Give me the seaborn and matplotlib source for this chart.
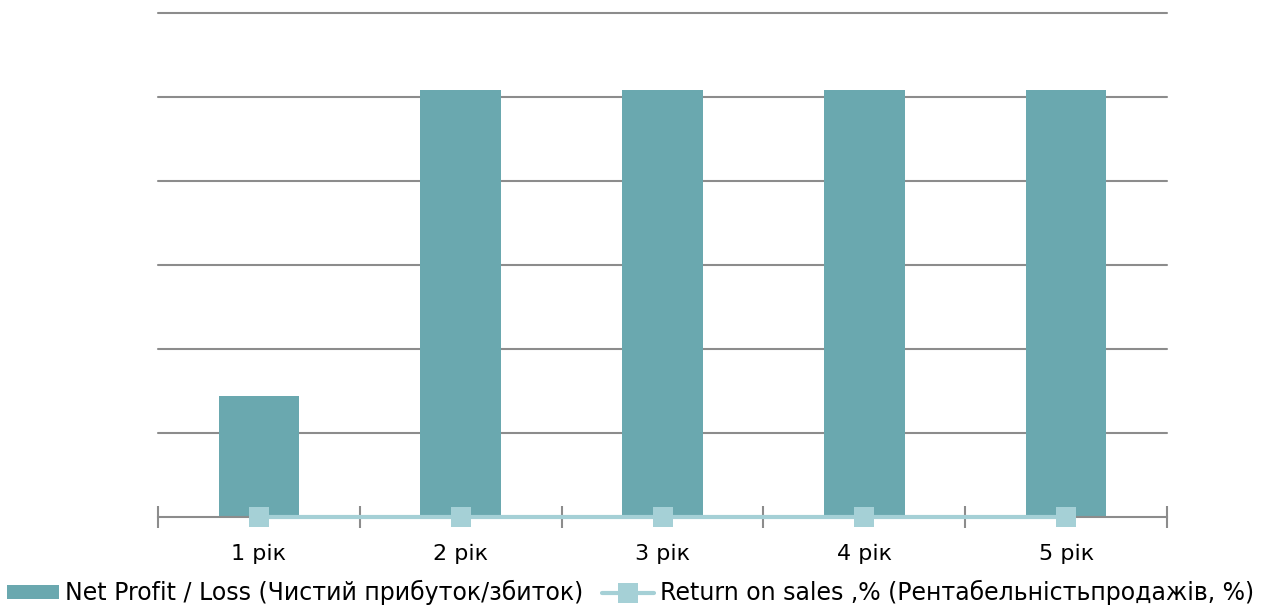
import matplotlib
matplotlib.use("Agg")
import matplotlib.pyplot as plt
from matplotlib.lines import Line2D
from matplotlib.patches import Patch
from matplotlib.ticker import FixedLocator
import seaborn as sns
import pandas as pd

years = ["1 рік", "2 рік", "3 рік", "4 рік", "5 рік"]
net_profit = [1.44, 5.08, 5.08, 5.08, 5.08]
return_on_sales = [0, 0, 0, 0, 0]

profit_label = "Net Profit / Loss (Чистий прибуток/збиток)"
ros_label = "Return on sales ,% (Рентабельністьпродажів, %)"

bar_color = "#6aa8af"
line_color = "#a5d0d6"
grid_color = "#8c8c8c"

sns.set_theme(style="white")
plt.rcParams["font.family"] = ["DejaVu Sans"]

df = pd.DataFrame({"year": years, "profit": net_profit, "ros": return_on_sales})

fig = plt.figure(figsize=(12.61, 6.10), dpi=100)
ax = fig.add_axes([158 / 1261, 1 - 517 / 610, (1167 - 158) / 1261, (517 - 13) / 610])

for y in range(1, 7):
    ax.axhline(y, color=grid_color, linewidth=1.5, zorder=0, clip_on=False)

sns.barplot(data=df, x="year", y="profit", color=bar_color, width=0.4,
            saturation=1, ax=ax, zorder=2)
for p in ax.patches:
    p.set_edgecolor("none")

ax.plot(range(len(years)), df["ros"], color=line_color, linewidth=3,
        marker="s", markersize=14, markeredgewidth=0, zorder=4, clip_on=False)

ax.set_xlim(-0.5, len(years) - 0.5)
ax.set_ylim(0, 6)
ax.set_xlabel("")
ax.set_ylabel("")
ax.set_yticks([])

for side in ("top", "right", "left"):
    ax.spines[side].set_visible(False)
ax.spines["bottom"].set_color(grid_color)
ax.spines["bottom"].set_linewidth(1.5)
ax.spines["bottom"].set_zorder(3)

ax.tick_params(axis="x", which="major", length=0, pad=19, labelsize=16, labelcolor="#000000")
ax.xaxis.set_minor_locator(FixedLocator([i - 0.5 for i in range(len(years) + 1)]))
ax.tick_params(axis="x", which="minor", direction="inout", length=16, width=1.5,
               color=grid_color, bottom=True)

handles = [
    Patch(facecolor=bar_color, edgecolor="none"),
    Line2D([0], [0], color=line_color, linewidth=3, marker="s", markersize=14,
           markeredgewidth=0),
]
fig.legend(handles, [profit_label, ros_label], loc="center",
           bbox_to_anchor=(0.5, 0.028), ncol=2, frameon=False, fontsize=17,
           handlelength=2.2, handleheight=0.55, handletextpad=0.25,
           columnspacing=0.8, labelcolor="#000000", borderpad=0)

fig.savefig("out.png", dpi=100)
